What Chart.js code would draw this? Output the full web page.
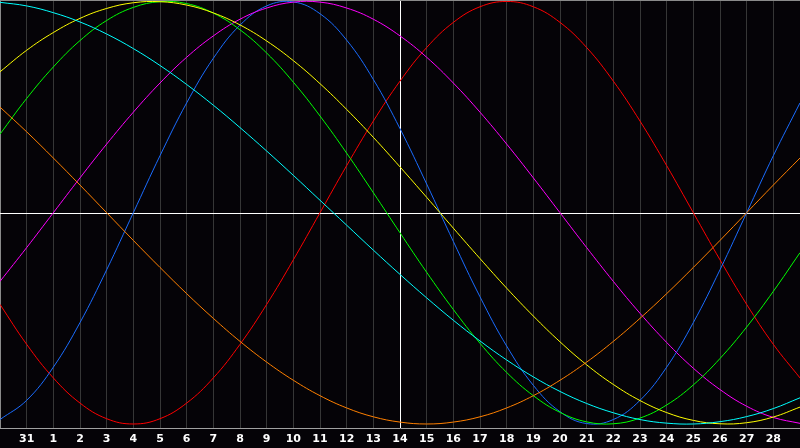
<!DOCTYPE html>
<html>
<head>
<meta charset="utf-8">
<script src="https://cdn.jsdelivr.net/npm/chart.js@4.4.1/dist/chart.umd.min.js"></script>
<style>
html,body{margin:0;padding:0;background:#050307;}
#c{display:block;}
</style>
</head>
<body>
<canvas id="c" width="800" height="448"></canvas>
<script>
// Day labels (index 0 and 30 are the chart edges, not labelled)
const days = ['30','31','1','2','3','4','5','6','7','8','9','10','11','12','13','14','15','16','17','18','19','20','21','22','23','24','25','26','27','28','29'];
const todayIndex = 15; // day 14

const blue    = [-0.979,-0.888,-0.731,-0.520,-0.270,0,0.270,0.520,0.731,0.888,0.979,0.998,0.942,0.817,0.631,0.398,0.136,-0.136,-0.398,-0.631,-0.817,-0.942,-0.998,-0.979,-0.888,-0.731,-0.520,-0.270,0,0.270,0.520];
const red     = [-0.434,-0.623,-0.782,-0.901,-0.975,-1,-0.975,-0.901,-0.782,-0.623,-0.434,-0.223,0,0.223,0.434,0.623,0.782,0.901,0.975,1,0.975,0.901,0.782,0.623,0.434,0.223,0,-0.223,-0.434,-0.623,-0.782];
const green   = [0.372,0.541,0.690,0.815,0.910,0.972,0.999,0.990,0.945,0.866,0.756,0.618,0.458,0.282,0.095,-0.095,-0.282,-0.458,-0.618,-0.756,-0.866,-0.945,-0.990,-0.999,-0.972,-0.910,-0.815,-0.690,-0.541,-0.372,-0.189];
const magenta = [-0.325,-0.165,0,0.165,0.325,0.476,0.614,0.736,0.837,0.916,0.969,0.997,0.997,0.969,0.916,0.837,0.736,0.614,0.476,0.325,0.165,0,-0.165,-0.325,-0.476,-0.614,-0.736,-0.837,-0.916,-0.969,-0.997];
const yellow  = [0.667,0.769,0.853,0.920,0.967,0.994,0.999,0.983,0.946,0.889,0.813,0.720,0.611,0.489,0.357,0.217,0.073,-0.073,-0.217,-0.357,-0.489,-0.611,-0.720,-0.813,-0.889,-0.946,-0.983,-0.999,-0.994,-0.967,-0.920];
const orange  = [0.5,0.383,0.259,0.131,0,-0.131,-0.259,-0.383,-0.5,-0.609,-0.707,-0.793,-0.866,-0.924,-0.966,-0.991,-1,-0.991,-0.966,-0.924,-0.866,-0.793,-0.707,-0.609,-0.5,-0.383,-0.259,-0.131,0,0.131,0.259];
const cyan    = [0.996,0.979,0.947,0.903,0.846,0.777,0.697,0.607,0.509,0.403,0.292,0.177,0.059,-0.059,-0.177,-0.292,-0.403,-0.509,-0.607,-0.697,-0.777,-0.846,-0.903,-0.947,-0.979,-0.996,-1.000,-0.989,-0.965,-0.927,-0.876];

function ds(data, color){
  return {data, borderColor: color, borderWidth: 1, pointRadius: 0, pointHoverRadius: 0, tension: 0.4, fill: false};
}

const bgPlugin = {
  id: 'bg',
  beforeDraw(chart){
    const ctx = chart.ctx;
    ctx.save();
    ctx.fillStyle = '#050307';
    ctx.fillRect(0,0,chart.width,chart.height);
    ctx.restore();
  },
  beforeDatasetsDraw(chart){
    const {ctx, chartArea:a, scales:{y}} = chart;
    ctx.save();
    const py = Math.round(y.getPixelForValue(0)) + 0.5;
    ctx.strokeStyle = '#ffffff';
    ctx.lineWidth = 1;
    ctx.beginPath(); ctx.moveTo(a.left, py); ctx.lineTo(a.right, py); ctx.stroke();
    ctx.strokeStyle = '#8a8a8a';
    ctx.beginPath(); ctx.moveTo(a.left, a.top+0.5); ctx.lineTo(a.right, a.top+0.5); ctx.stroke();
    ctx.restore();
  }
};

new Chart(document.getElementById('c'), {
  type: 'line',
  data: {
    labels: days,
    datasets: [
      ds(orange,'#ff8000'),
      ds(cyan,'#00ffff'),
      ds(yellow,'#ffff00'),
      ds(green,'#00ff00'),
      ds(magenta,'#ff00ff'),
      ds(blue,'#1a6cff'),
      ds(red,'#ff0000')
    ]
  },
  options: {
    responsive: false,
    animation: false,
    layout: {padding: 0, autoPadding: false},
    plugins: {legend:{display:false}, tooltip:{enabled:false}},
    scales: {
      x: {
        offset: false,
        afterFit: (s) => { s.paddingLeft = 0; s.paddingRight = 0; s.height = 20; },
        grid: {
          drawTicks: false,
          color: (c) => (c.index === todayIndex ? '#ffffff' : ((c.index === 0 || c.index === days.length-1) ? '#8a8a8a' : '#363636')),
          lineWidth: 1
        },
        border: {display: true, color: '#a0a0a0'},
        ticks: {
          autoSkip: false,
          maxRotation: 0,
          padding: 5,
          color: '#ffffff',
          font: {family: 'DejaVu Sans', size: 11, weight: 'bold'},
          callback: (v, i) => (i === 0 || i === days.length-1) ? '' : days[i]
        }
      },
      y: {
        display: false,
        min: -1.019,
        max: 1.007
      }
    }
  },
  plugins: [bgPlugin]
});
</script>
</body>
</html>
